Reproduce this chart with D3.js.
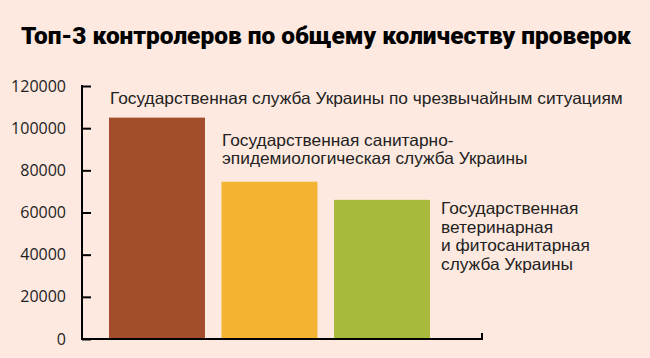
<!DOCTYPE html>
<html><head><meta charset="utf-8">
<script src="https://cdn.jsdelivr.net/npm/d3@7"></script>
<style>
html,body{margin:0;padding:0;background:#FDE9DF;}
svg{display:block;}
</style></head>
<body>
<svg id="chart" width="650" height="358"></svg>
<script>
const title = "Топ-3 контролеров по общему количеству проверок";
const categories = ["ГСЧС", "СЭС", "ВФС"];
const values = [105000, 74600, 66000];
const colors = ["#A34D2C", "#F4B433", "#A8BA3C"];
const labelLines = [
  ["Государственная служба Украины по чрезвычайным ситуациям"],
  ["Государственная санитарно-", "эпидемиологическая служба Украины"],
  ["Государственная", "ветеринарная", "и фитосанитарная", "служба Украины"]
];
const tickValues = [0, 20000, 40000, 60000, 80000, 100000, 120000];

const svg = d3.select("#chart");
svg.append("rect").attr("width", 650).attr("height", 358).attr("fill", "#FDE9DF");

svg.append("text")
  .attr("x", 21).attr("y", 44)
  .attr("font-family", "Roboto, 'Open Sans', sans-serif")
  .attr("font-weight", 900)
  .attr("font-size", 23)
  .attr("textLength", 610)
  .attr("lengthAdjust", "spacingAndGlyphs")
  .attr("fill", "#000")
  .text(title);

const y = d3.scaleLinear().domain([0, 120000]).range([339, 86]);
const x = d3.scaleBand().domain(categories).range([100.75, 438.25])
  .paddingInner(0.1467).paddingOuter(0.0733);

// bars
svg.append("g").selectAll("rect").data(values).join("rect")
  .attr("x", (d, i) => x(categories[i]))
  .attr("y", d => y(d))
  .attr("width", x.bandwidth())
  .attr("height", d => y(0) - y(d))
  .attr("fill", (d, i) => colors[i]);

// y axis
const yAxis = d3.axisLeft(y).tickValues(tickValues).tickSize(-9).tickPadding(16).tickFormat(d3.format("d"));
const gy = svg.append("g").attr("transform", "translate(82,0)").call(yAxis);
gy.select(".domain").remove();
gy.append("line").attr("x1", 0).attr("x2", 0).attr("y1", 85).attr("y2", 340)
  .attr("stroke", "#000").attr("stroke-width", 2);
gy.selectAll(".tick line").attr("stroke", "#000").attr("stroke-width", 2);
gy.selectAll(".tick text")
  .attr("font-family", "'Open Sans', sans-serif")
  .attr("font-size", 16)
  .attr("fill", "#222");

// x axis baseline
svg.append("path")
  .attr("d", `M81,${y(0)}H482V${y(0) - 6}`)
  .attr("fill", "none").attr("stroke", "#000").attr("stroke-width", 2);

// labels
const labelPos = [[110, 104], [222, 145.5], [441, 214]];
const lh = [0, 18.6, 18.6];
const labelWidth = 513;  // width of the first label in the reference
const t0 = svg.append("text").attr("font-size", 16)
  .attr("font-family", "'Liberation Sans', Arial, sans-serif").text(labelLines[0][0]);
const fs = 16 * labelWidth / t0.node().getComputedTextLength();
t0.remove();
labelLines.forEach((lines, i) => {
  const t = svg.append("text")
    .attr("font-family", "'Liberation Sans', Arial, sans-serif")
    .attr("font-size", fs)
    .attr("fill", "#222");
  lines.forEach((ln, j) => {
    t.append("tspan").attr("x", labelPos[i][0]).attr("y", labelPos[i][1] + j * lh[i]).text(ln);
  });
});
</script>
</body></html>
